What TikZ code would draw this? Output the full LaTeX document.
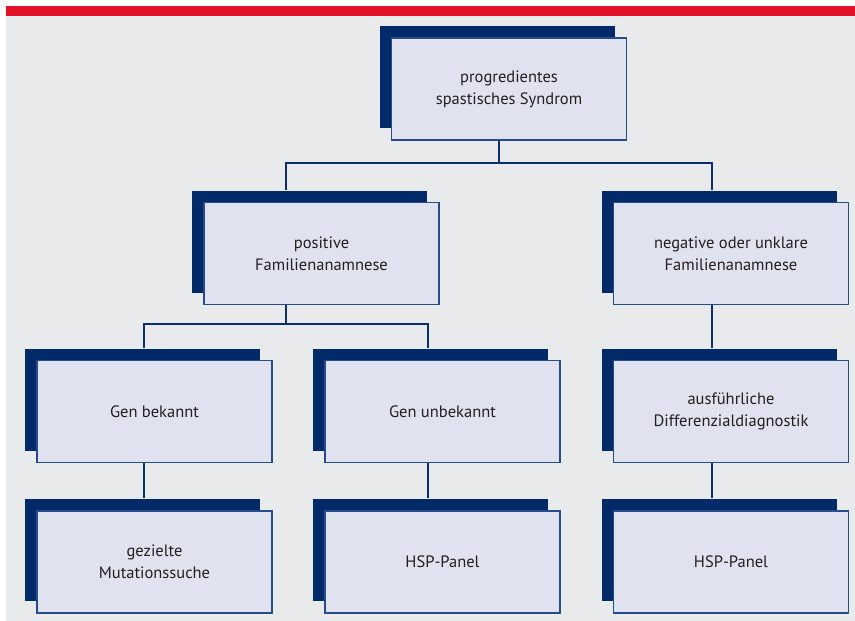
\documentclass[tikz,border=0pt]{standalone}
\usepackage{fontspec}
\setmainfont{PT Sans}
\usetikzlibrary{shadows}
\definecolor{navy}{HTML}{032A68}
\definecolor{boxfill}{HTML}{E1E2EF}
\definecolor{boxline}{HTML}{274C8C}
\definecolor{bggray}{HTML}{E9EAEC}
\definecolor{barred}{HTML}{E3122B}
\definecolor{txt}{HTML}{231F20}
\definecolor{connline}{HTML}{0A2D6E}
\tikzset{
  flowbox/.style={rectangle, minimum width=235pt, minimum height=102pt,
    fill=boxfill, draw=boxline, line width=1.1pt, align=center,
    text=txt, font=\fontsize{16.5}{22}\selectfont, inner sep=0pt,
    general shadow={fill=navy, shadow xshift=-12pt, shadow yshift=12pt}},
  conn/.style={draw=connline, line width=1.6pt}
}
\begin{document}
\begin{tikzpicture}[x=1pt,y=-1pt]
\useasboundingbox (0,0) rectangle (855,621);
\fill[white] (0,0) rectangle (855,621);
\fill[bggray] (6,16) rectangle (855,621);
\fill[barred] (6,6) rectangle (855,16);

\node[flowbox] (top) at (509,89) {progredientes\\spastisches Syndrom};
\node[flowbox] (pos) at (321.5,253.5) {positive\\Familienanamnese};
\node[flowbox] (neg) at (731,253.5) {negative oder unklare\\Familienanamnese};
\node[flowbox] (genb) at (154.5,411.5) {Gen bekannt};
\node[flowbox] (genu) at (442.5,411.5) {Gen unbekannt};
\node[flowbox] (aus) at (731,411.5) {ausführliche\\Differenzialdiagnostik};
\node[flowbox] (mut) at (154.5,562) {gezielte\\Mutationssuche};
\node[flowbox] (hsp1) at (442.5,562) {HSP-Panel};
\node[flowbox] (hsp2) at (731,562) {HSP-Panel};

\coordinate (j1) at (499,163);
\coordinate (j2) at (286,324);
\draw[conn] ([xshift=-10pt]top.south) -- (j1);
\draw[conn] ([xshift=-35.5pt,yshift=12pt]pos.north) |- (j1) -| ([xshift=-19pt,yshift=12pt]neg.north);
\draw[conn] ([xshift=-35.5pt]pos.south) -- (j2);
\draw[conn] ([xshift=-10.5pt,yshift=12pt]genb.north) |- (j2) -| ([xshift=-14.5pt,yshift=12pt]genu.north);
\draw[conn] ([xshift=-19pt]neg.south) -- ([xshift=-19pt,yshift=12pt]aus.north);
\draw[conn] ([xshift=-10.5pt]genb.south) -- ([xshift=-10.5pt,yshift=12pt]mut.north);
\draw[conn] ([xshift=-14.5pt]genu.south) -- ([xshift=-14.5pt,yshift=12pt]hsp1.north);
\draw[conn] ([xshift=-19pt]aus.south) -- ([xshift=-19pt,yshift=12pt]hsp2.north);
\end{tikzpicture}
\end{document}
